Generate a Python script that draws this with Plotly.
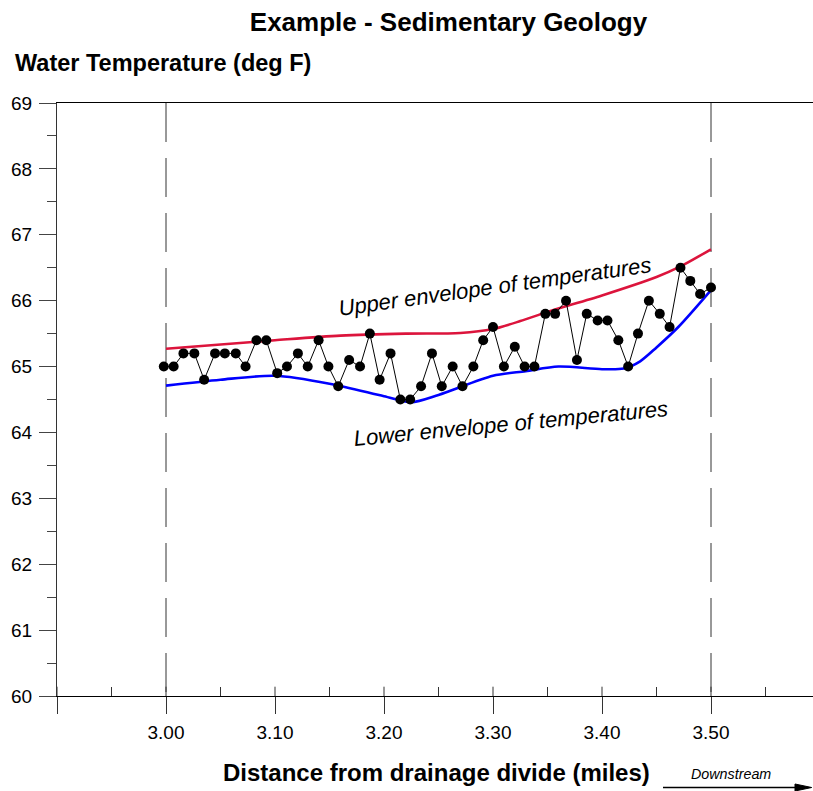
import plotly.graph_objects as go

# ---- data ----
distance = [2.998, 3.007, 3.016, 3.026, 3.035, 3.045, 3.054, 3.064, 3.073, 3.083,
            3.092, 3.102, 3.111, 3.121, 3.130, 3.140, 3.149, 3.158, 3.168, 3.178,
            3.187, 3.196, 3.206, 3.215, 3.224, 3.234, 3.244, 3.253, 3.263, 3.272,
            3.282, 3.291, 3.300, 3.310, 3.320, 3.329, 3.338, 3.348, 3.357, 3.367,
            3.377, 3.386, 3.396, 3.405, 3.415, 3.424, 3.433, 3.443, 3.453, 3.462,
            3.472, 3.481, 3.490, 3.500]
temperature = [65.0, 65.0, 65.2, 65.2, 64.8, 65.2, 65.2, 65.2, 65.0, 65.4,
               65.4, 64.9, 65.0, 65.2, 65.0, 65.4, 65.0, 64.7, 65.1, 65.0,
               65.5, 64.8, 65.2, 64.5, 64.5, 64.7, 65.2, 64.7, 65.0, 64.7,
               65.0, 65.4, 65.6, 65.0, 65.3, 65.0, 65.0, 65.8, 65.8, 66.0,
               65.1, 65.8, 65.7, 65.7, 65.4, 65.0, 65.5, 66.0, 65.8, 65.6,
               66.5, 66.3, 66.1, 66.2]

upper_x = [3.00, 3.10, 3.16, 3.22, 3.27, 3.30, 3.325, 3.35, 3.40, 3.45, 3.472, 3.50]
upper_y = [65.27, 65.40, 65.47, 65.50, 65.51, 65.57, 65.69, 65.83, 66.08, 66.36, 66.52, 66.78]

lower_x = [3.00, 3.05, 3.10, 3.15, 3.20, 3.225, 3.25, 3.30, 3.33, 3.36, 3.40, 3.42, 3.435, 3.45, 3.47, 3.50]
lower_y = [64.71, 64.80, 64.86, 64.74, 64.55, 64.46, 64.57, 64.86, 64.93, 65.00, 64.96, 64.97, 65.08, 65.29, 65.60, 66.16]

x_major = [2.90, 3.00, 3.10, 3.20, 3.30, 3.40, 3.50]
x_major_text = ["", "3.00", "3.10", "3.20", "3.30", "3.40", "3.50"]
x_minor = [2.95, 3.05, 3.15, 3.25, 3.35, 3.45, 3.55]
y_major = [60, 61, 62, 63, 64, 65, 66, 67, 68, 69]
y_minor = [60.5, 61.5, 62.5, 63.5, 64.5, 65.5, 66.5, 67.5, 68.5]
dashed_at = [3.00, 3.50]

title = "Example - Sedimentary Geology"
y_title = "Water Temperature (deg F)"
x_title = "Distance from drainage divide (miles)"
upper_label = "Upper envelope of temperatures"
lower_label = "Lower envelope of temperatures"

# ---- layout geometry ----
W, H = 813, 791
ML, MR, MT, MB = 57, 0, 103, 95
PW, PH = W - ML - MR, H - MT - MB
FONT = "Liberation Sans, Arial, Helvetica, sans-serif"


def px(x):
    return (x - ML) / PW


def py(y):
    return (H - MB - y) / PH


fig = go.Figure()

fig.add_trace(go.Scatter(x=upper_x, y=upper_y, mode="lines",
                         line=dict(color="#dc143c", width=2.6, shape="spline", smoothing=0.8),
                         hoverinfo="skip"))
fig.add_trace(go.Scatter(x=lower_x, y=lower_y, mode="lines",
                         line=dict(color="#0000ff", width=2.6, shape="spline", smoothing=0.8),
                         hoverinfo="skip"))
fig.add_trace(go.Scatter(x=distance, y=temperature, mode="lines+markers",
                         line=dict(color="black", width=1),
                         marker=dict(color="black", size=10)))

for xv in dashed_at:
    fig.add_shape(type="line", xref="x", yref="y", x0=xv, x1=xv, y0=69, y1=60,
                  line=dict(color="#333333", width=1, dash="39px,16px"), layer="below")

# inward part of the crossing major x ticks
for xv in x_major:
    fig.add_shape(type="line", xref="x", yref="paper", x0=xv, x1=xv, y0=0, y1=9.3 / PH,
                  line=dict(color="#333333", width=1))

# Downstream arrow
fig.add_shape(type="line", xref="paper", yref="paper",
              x0=px(663), x1=px(797), y0=py(787.5), y1=py(787.5),
              line=dict(color="black", width=1.3))
fig.add_shape(type="path", xref="paper", yref="paper",
              path=f"M {px(795)},{py(784)} L {px(811.7)},{py(787.5)} L {px(795)},{py(791)} Z",
              fillcolor="black", line=dict(color="black", width=1))

fig.add_annotation(text=f"<b>{y_title}</b>", xref="paper", yref="paper",
                   x=px(13), y=py(63.5), xanchor="left", yanchor="middle",
                   showarrow=False, font=dict(size=23.5, color="black", family=FONT))
fig.add_annotation(text=f"<b>{x_title}</b>", xref="paper", yref="paper",
                   x=px(436.5), y=py(772), xanchor="center", yanchor="middle",
                   showarrow=False, font=dict(size=24, color="black", family=FONT))
fig.add_annotation(text="<i>Downstream</i>", xref="paper", yref="paper",
                   x=px(730.5), y=py(774), xanchor="center", yanchor="middle",
                   showarrow=False, font=dict(size=14.3, color="black", family=FONT))
fig.add_annotation(text=f"<i>{upper_label}</i>", xref="paper", yref="paper",
                   x=px(495), y=py(286), xanchor="center", yanchor="middle", textangle=-8,
                   showarrow=False, font=dict(size=22, color="black", family=FONT))
fig.add_annotation(text=f"<i>{lower_label}</i>", xref="paper", yref="paper",
                   x=px(511), y=py(423), xanchor="center", yanchor="middle", textangle=-5.5,
                   showarrow=False, font=dict(size=22, color="black", family=FONT))

fig.update_layout(
    width=W, height=H,
    margin=dict(l=ML, r=MR, t=MT, b=MB, pad=0),
    paper_bgcolor="white", plot_bgcolor="white",
    showlegend=False,
    font=dict(family=FONT, color="black"),
    title=dict(text=f"<b>{title}</b>", x=448.5 / W, xanchor="center",
               y=1 - 21.5 / H, yanchor="middle",
               font=dict(size=26, color="black", family=FONT)),
    xaxis=dict(range=[2.90, 2.90 + 0.1 * PW / 109.0], showgrid=False, zeroline=False,
               showline=True, linecolor="black", linewidth=1, mirror=True,
               tickmode="array", tickvals=x_major, ticktext=x_major_text,
               ticks="outside", ticklen=17, tickwidth=1, tickcolor="#333333",
               ticklabelstandoff=2,
               tickfont=dict(size=19, color="black", family=FONT),
               minor=dict(tickmode="array", tickvals=x_minor, ticks="inside",
                          ticklen=9, tickwidth=1, tickcolor="#333333", showgrid=False)),
    yaxis=dict(range=[60, 69], showgrid=False, zeroline=False,
               showline=True, linecolor="#333333", linewidth=1.3,
               tickmode="array", tickvals=y_major,
               ticks="outside", ticklen=17, tickwidth=1, tickcolor="#444444",
               ticklabelstandoff=3,
               tickfont=dict(size=19, color="black", family=FONT),
               minor=dict(tickmode="array", tickvals=y_minor, ticks="outside",
                          ticklen=9, tickwidth=1, tickcolor="#444444", showgrid=False)),
)

fig.write_html("out.html", config={"displayModeBar": False},
               post_script="document.body.style.margin='0';document.body.style.overflow='hidden';")
